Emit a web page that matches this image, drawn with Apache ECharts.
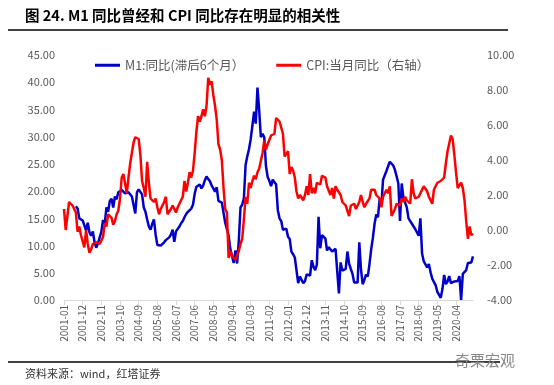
<!DOCTYPE html>
<html><head><meta charset="utf-8">
<script src="https://cdn.jsdelivr.net/npm/echarts@6/dist/echarts.min.js"></script>
<style>html,body{margin:0;padding:0;background:#fff}#c{width:554px;height:385px}</style>
</head><body><div id="c"></div>
<script>
// Monthly categories 2001-01 .. 2021-02
const startYear = 2001, monthCount = 242;
const categories = [];
for (let k = 0; k < monthCount; k++) {
  const y = startYear + Math.floor(k / 12), m = k % 12 + 1;
  categories.push(y + '-' + (m < 10 ? '0' + m : m));
}
const leftTicks = [0, 45, 5];
const rightTicks = [-4, 10, 2];

// CPI YoY (right axis)
const cpi = [
 1.2,0.0,0.8,1.6,1.7,1.4,1.5,1.0,-0.1,0.2,-0.3,-0.3,
 -1.0,0.0,-0.8,-1.3,-1.1,-0.8,-0.9,-0.7,-0.7,-0.8,-0.7,-0.4,
 0.4,0.2,0.9,1.0,0.7,0.3,0.5,0.9,1.1,1.8,3.0,3.2,
 3.2,2.1,3.0,3.8,4.4,5.0,5.3,5.3,5.2,4.3,2.8,2.4,
 1.9,3.9,2.7,1.8,1.8,1.6,1.8,1.3,0.9,1.2,1.3,1.6,
 1.9,0.9,0.8,1.2,1.4,1.5,1.0,1.3,1.5,1.4,1.9,2.8,
 2.2,2.7,3.3,3.0,3.4,4.4,5.6,6.5,6.2,6.5,6.9,6.5,
 7.1,8.7,8.3,8.5,7.7,7.1,6.3,4.9,4.6,4.0,2.4,1.2,
 1.0,-1.6,-1.2,-1.5,-1.4,-1.7,-1.8,-1.2,-0.8,-0.5,0.6,1.9,
 1.5,2.7,2.4,2.8,3.1,2.9,3.3,3.5,3.6,4.4,5.1,4.6,
 4.9,4.9,5.4,5.3,5.5,6.4,6.5,6.2,6.1,5.5,4.2,4.1,
 4.5,3.2,3.6,3.4,3.0,2.2,1.8,2.0,1.9,1.7,2.0,2.5,
 2.0,3.2,2.1,2.4,2.1,2.7,2.7,2.6,3.1,3.2,3.0,2.5,
 2.5,2.0,2.4,1.8,2.5,2.3,2.3,2.0,1.6,1.6,1.4,1.5,
 0.8,1.4,1.4,1.5,1.2,1.4,1.6,2.0,1.6,1.3,1.5,1.6,
 1.8,2.3,2.3,2.3,2.0,1.9,1.8,1.3,1.9,2.1,2.3,2.1,
 2.5,0.8,0.9,1.2,1.5,1.5,1.4,1.8,1.6,1.9,1.7,1.8,
 1.5,2.9,2.1,1.8,1.8,1.9,2.1,2.3,2.5,2.5,2.2,1.9,
 1.7,1.5,2.3,2.5,2.7,2.7,2.8,2.8,3.0,3.8,4.5,4.5,
 5.4,5.2,4.3,3.3,2.4,2.5,2.7,2.4,1.7,0.5,-0.5,0.2,
 -0.3,-0.2
];

// M1 YoY lagged 6 months (left axis)
const m1Lagged = [
 null,null,null,null,null,null,null,17.2,16.8,15.0,15.3,14.6,
 14.8,12.8,14.2,12.4,11.8,12.6,10.6,9.6,10.4,10.6,12.5,14.7,
 14.0,17.0,16.2,18.2,18.6,17.0,19.0,18.5,19.8,19.5,20.2,20.4,
 19.6,19.3,19.8,19.5,19.0,18.8,15.9,19.8,20.3,20.0,19.4,17.0,
 16.2,14.8,13.5,12.9,14.0,14.8,12.0,10.1,9.9,10.0,10.3,10.6,
 11.0,11.3,11.5,12.0,12.9,10.7,12.6,12.8,13.5,14.1,14.5,15.2,
 15.8,16.2,16.3,16.8,17.5,19.5,20.8,20.5,21.2,20.5,21.0,22.0,
 22.7,22.2,21.8,21.0,20.5,19.9,20.7,18.2,18.3,17.9,18.1,14.2,
 14.0,11.8,9.4,9.1,6.8,9.1,6.7,10.9,17.0,17.5,18.7,24.8,
 26.4,27.7,29.5,32.0,34.6,32.4,39.0,34.9,29.9,30.5,29.9,24.6,
 22.6,21.9,20.9,22.1,22.1,21.2,16.5,15.0,14.5,12.9,12.7,13.1,
 11.6,11.2,8.9,8.4,7.8,7.9,3.1,4.3,4.4,3.1,3.5,4.7,
 4.6,4.5,7.3,6.1,5.5,6.5,15.3,9.5,11.9,11.9,11.3,9.1,
 9.7,9.9,8.9,8.9,9.4,9.3,1.2,6.9,5.4,5.3,5.7,8.9,
 6.7,5.7,4.8,3.2,3.2,3.2,10.6,5.6,2.9,3.7,4.7,4.3,
 6.6,9.3,11.4,14.0,15.7,15.2,18.6,17.4,22.1,22.9,23.7,24.6,
 25.4,25.3,24.7,23.9,22.7,21.4,14.5,21.4,18.8,18.5,17.0,15.0,
 15.3,14.0,14.0,13.0,12.7,11.8,15.0,8.5,7.1,7.2,6.0,6.6,
 5.1,3.9,4.0,2.7,1.5,1.5,0.4,2.0,4.6,2.9,3.4,4.4,
 3.1,3.4,3.4,3.3,3.5,4.4,0.0,4.8,5.0,5.5,6.8,6.5,
 6.9,8.0
];

const seriesNames = ['M1:同比(滞后6个月）', 'CPI:当月同比（右轴）'];
const titleText = '图 24. M1 同比曾经和 CPI 同比存在明显的相关性';
const sourceText = '资料来源：wind，红塔证券';

const FONT = '"Noto Sans CJK SC", "Noto Sans", sans-serif';
const gray = '#595959';
const chart = echarts.init(document.getElementById('c'), null, {renderer: 'canvas'});
chart.setOption({
  animation: false,
  textStyle: {fontFamily: FONT},
  grid: {left: 64, right: 81, top: 55, bottom: 85, containLabel: false},
  legend: {
    left: 90, top: 54, itemWidth: 25, itemHeight: 3, itemGap: 32, icon: 'rect',
    textStyle: {fontSize: 12.5, color: gray, fontFamily: FONT},
    data: seriesNames
  },
  xAxis: {
    type: 'category', data: categories, boundaryGap: false,
    axisLine: {lineStyle: {color: '#d9d9d9'}},
    axisTick: {interval: 10, length: 5, lineStyle: {color: '#d9d9d9'}},
    axisLabel: {interval: 10, rotate: 90, fontSize: 10, color: gray, margin: 5, fontFamily: FONT}
  },
  yAxis: [
    {type: 'value', min: leftTicks[0], max: leftTicks[1], interval: leftTicks[2],
     axisLine: {show: false}, axisTick: {show: false}, splitLine: {show: false},
     axisLabel: {fontSize: 11, color: gray, margin: 9, formatter: v => v.toFixed(2), fontFamily: FONT}},
    {type: 'value', min: rightTicks[0], max: rightTicks[1], interval: rightTicks[2],
     axisLine: {show: false}, axisTick: {show: false}, splitLine: {show: false},
     axisLabel: {fontSize: 11, color: gray, margin: 14, formatter: v => v.toFixed(2), fontFamily: FONT}}
  ],
  series: [
    {name: seriesNames[0], type: 'line', yAxisIndex: 0, data: m1Lagged, showSymbol: false,
     lineStyle: {color: '#0000C8', width: 2.5}, itemStyle: {color: '#0000C8'}},
    {name: seriesNames[1], type: 'line', yAxisIndex: 1, data: cpi, showSymbol: false,
     lineStyle: {color: '#FF0000', width: 2.5}, itemStyle: {color: '#FF0000'}}
  ],
  graphic: [
    {type: 'text', left: 25, top: 8, style: {text: titleText, font: 'bold 14.5px ' + FONT, fill: '#000'}},
    {type: 'line', shape: {x1: 8, y1: 30, x2: 508, y2: 30}, style: {stroke: '#000', lineWidth: 1.5}},
    {type: 'line', shape: {x1: 8, y1: 362, x2: 500, y2: 362}, style: {stroke: '#000', lineWidth: 1.5}},
    {type: 'text', left: 25, top: 368, style: {text: sourceText, font: '11px ' + FONT, fill: '#333'}},
    {type: 'text', left: 455, top: 353, style: {text: '奇栗宏观', font: '15px ' + FONT, fill: '#888'}}
  ]
});
</script></body></html>
